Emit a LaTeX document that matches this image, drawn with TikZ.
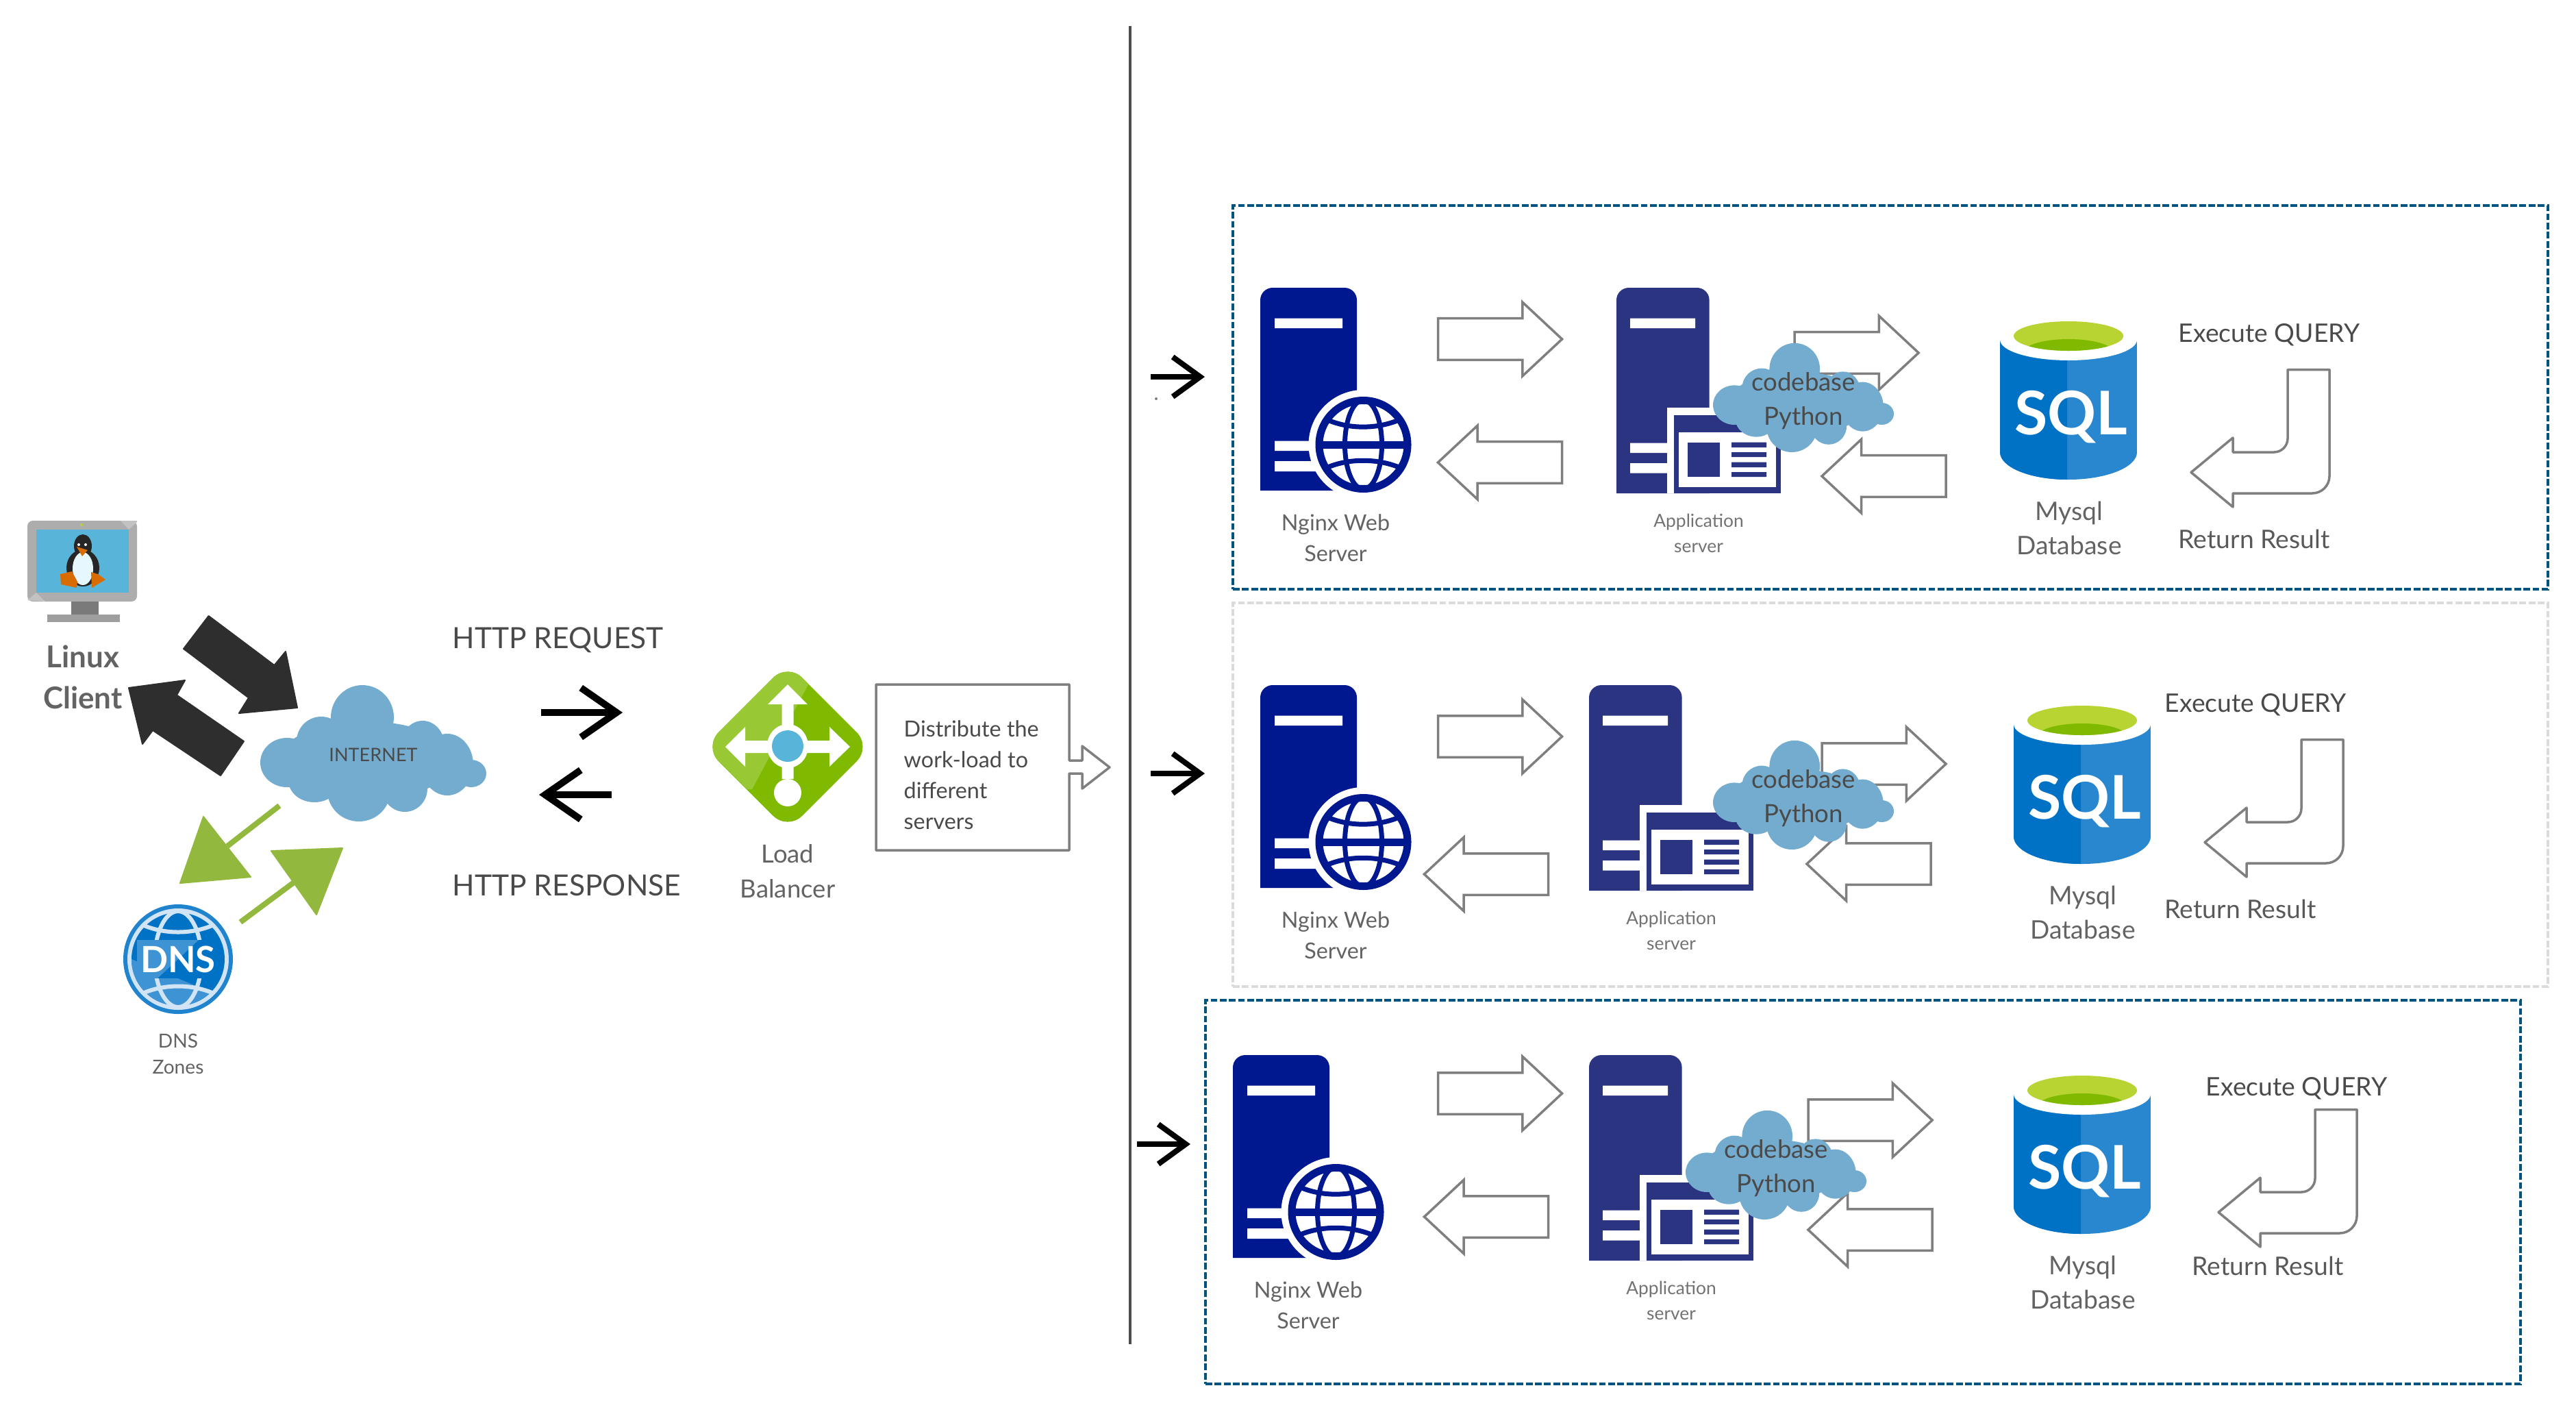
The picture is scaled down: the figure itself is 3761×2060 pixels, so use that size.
\documentclass[tikz,border=0pt]{standalone}
\usepackage{fontspec}
\setmainfont{Lato}
\usetikzlibrary{arrows.meta,shapes.arrows}

\definecolor{labelgrey}{HTML}{636363}
\definecolor{textgrey}{HTML}{4A4A4A}
\definecolor{linegrey}{HTML}{7F7F7F}
\definecolor{cloudblue}{HTML}{74ACCF}
\definecolor{webnavy}{HTML}{00188F}
\definecolor{appnavy}{HTML}{2B3481}
\definecolor{sqlblue}{HTML}{0072C6}
\definecolor{sqllight}{HTML}{2987CF}
\definecolor{screenblue}{HTML}{59B4D9}
\definecolor{limegreen}{HTML}{B8D432}
\definecolor{azuregreen}{HTML}{7FBA00}
\definecolor{arrowgreen}{HTML}{92B83E}
\definecolor{boxblue}{HTML}{00547F}
\definecolor{ringblue}{HTML}{D0E4F5}

\newcommand{\labelsize}[2]{\fontsize{#1}{#2}\selectfont}

\tikzset{
    x=0.01cm, y=-0.01cm,
    blockarrow/.style={single arrow, draw=linegrey, fill=white, line width=0.035cm,
        minimum height=1.81cm, minimum width=1.04cm, single arrow head extend=0.235cm,
        single arrow tip angle=86, inner xsep=0pt, inner ysep=0.285cm, outer sep=0pt, anchor=tail},
    blockleft/.style={blockarrow, rotate=180},
    rowbox/.style={draw=boxblue, line width=0.04cm, dash pattern=on 2.8pt off 1pt,
        minimum width=19.19cm, minimum height=5.6cm, inner sep=0pt},
    blackbarb/.style={-{Straight Barb[length=0.52cm,width=0.72cm]}, line width=0.1cm, black},
    rowbarb/.style={-{Straight Barb[length=0.40cm,width=0.58cm]}, line width=0.08cm, black},
    blackarrow/.style={fill=black!82, draw=black!82, line width=0.02cm, line join=round},
    greenarrow/.style={fill=arrowgreen, draw=arrowgreen, line width=0.02cm, line join=round},
    pics/netcloud/.style={code={
        \fill[cloudblue]
            (-16,-52) ellipse [x radius=46, y radius=47]
            (-126,14) ellipse [x radius=39, y radius=36]
            (-76,-17) ellipse [x radius=36, y radius=36]
            (72,-11) ellipse [x radius=32, y radius=36]
            (108,17) ellipse [x radius=38, y radius=45]
            (143,30) ellipse [x radius=22, y radius=20]
            (-21,55) ellipse [x radius=46, y radius=45]
            (-86,40) ellipse [x radius=38, y radius=32]
            (46,52) ellipse [x radius=33, y radius=34]
            (-10,11) ellipse [x radius=128, y radius=57];
    }},
    pics/webicon/.style={code={
        \fill[webnavy] (0,296) [rounded corners=0.18cm] -- (0,0) -- (141,0) [sharp corners] -- (141,296) -- cycle;
        \fill[white] (21,44.5) rectangle (120,59) (21,223.6) rectangle (120,238) (21,253) rectangle (120,268);
        \fill[white] (150.5,229) circle (80);
        \draw[webnavy, line width=0.11cm] (150.5,229) circle (64.5);
        \draw[webnavy, line width=0.07cm] (150.5,229) ellipse [x radius=27, y radius=65];
        \draw[webnavy, line width=0.11cm] (86,229) -- (215,229);
        \draw[webnavy, line width=0.07cm] (98.5,193) .. controls (130,206.5) and (170,206.5) .. (202.5,193);
        \draw[webnavy, line width=0.07cm] (98.5,262) .. controls (130,249) and (170,249) .. (202.5,262);
        \node[text=labelgrey, font=\labelsize{9.2}{12.8}, align=center] (-label) at (110,365) {Nginx Web\\Server};
    }},
    pics/appicon/.style={code={
        \fill[appnavy] (0,300) [rounded corners=0.18cm] -- (0,0) -- (135.6,0) [sharp corners] -- (135.6,300) -- cycle;
        \fill[white] (20,44.5) rectangle (115,59) (20,226.6) rectangle (74,241) (20,256) rectangle (74,270.6);
        \fill[white] (74,175) rectangle (250,300);
        \fill[appnavy] (84,186) rectangle (240,300);
        \fill[white] (91,210.5) rectangle (233,291);
        \fill[appnavy] (104,225.5) rectangle (151,276);
        \fill[appnavy] (168,225.5) rectangle (219,233) (168,240) rectangle (219,247)
            (168,254.5) rectangle (219,262) (168,269) rectangle (219,276);
        \node[text=labelgrey!90, font=\labelsize{7.5}{10.5}, align=center] (-label) at (120,358) {Application\\server};
    }},
    pics/dbicon/.style={code={
        \fill[sqllight] (0,27) rectangle (200,191);
        \fill[sqllight] (100,191) ellipse [x radius=100, y radius=40];
        \fill[sqlblue] (0,27) -- (0,191) .. controls (0,213) and (44,231) .. (98,231) -- (98,27) -- cycle;
        \fill[white] (100,27) ellipse [x radius=100, y radius=30];
        \fill[limegreen] (100,21.5) ellipse [x radius=80, y radius=21.5];
        \begin{scope}
            \clip (100,21.5) ellipse [x radius=80, y radius=21.5];
            \fill[azuregreen] (100,44) ellipse [x radius=64, y radius=18];
        \end{scope}
        \node[text=white, font=\bfseries\labelsize{25}{28}] (-sql) at (104,140) {SQL};
        \node[text=labelgrey, font=\labelsize{10.6}{14.2}, align=center] (-label) at (101,302) {Mysql\\Database};
    }},
    pics/bentarrow/.style={code={
        \draw[draw=linegrey, fill=white, line width=0.035cm, line join=round]
            (141,0) -- (202,0) [rounded corners=0.25cm] -- (202,180.5) [sharp corners] -- (61,180.5)
            -- (61,200.5) -- (0,150) -- (61,99.5) -- (61,120.5) [rounded corners=0.2cm] -- (141,120.5)
            [sharp corners] -- cycle;
    }},
    cloudtext/.style={text=textgrey, font=\labelsize{10.4}{14.2}, align=center},
    querytext/.style={text=textgrey, font=\labelsize{10.6}{13}, anchor=west, inner sep=0pt},
    resulttext/.style={text=labelgrey!90!black, font=\labelsize{10.6}{13}, anchor=west, inner sep=0pt},
}

\begin{document}
\begin{tikzpicture}
    \useasboundingbox (0,0) rectangle (3761,2060);

    % linux client
    \fill[black!32, rounded corners=0.08cm] (40,760) rectangle (200,878);
    \fill[black!24] (176,760) -- (200,760) -- (200,762) -- (188,773) -- cycle (53,865) -- (40,876) -- (66,878) -- (53,865);
    \fill[black!52] (104,878) rectangle (144,897);
    \fill[black!38] (69,897) rectangle (175,908);
    \fill[screenblue] (53,773) rectangle (188,865);
    \fill[limegreen] (119,766) circle (2);
    \fill[black!85] (121,829) ellipse [x radius=24, y radius=27];
    \fill[black!85] (121,797) ellipse [x radius=13, y radius=17];
    \fill[white!90!cyan] (121,830) ellipse [x radius=15, y radius=24];
    \fill[orange!85!black] (88,838) -- (105,834) -- (113,849) -- (112,858) -- (89,853) -- cycle
        (133,835) -- (143,838) -- (154,846) -- (134,858) -- cycle
        (112,798) -- (128,803) -- (120,812) -- cycle;
    \fill[white] (115,795) circle (2) (125,795) circle (2);
    \node[text=labelgrey, font=\bfseries\labelsize{12.5}{17}, align=center] (client) at (121,988) {Linux\\Client};

    \draw[blackarrow] (304.6,899) -- (268,947) -- (363,1018.5) -- (349,1041) -- (434,1033) -- (417,951) -- (400.5,971) -- cycle;
    \draw[blackarrow] (188,1004) -- (270,993) -- (258,1014.5) -- (356,1082) -- (322,1132) -- (223,1066) -- (208,1086) -- cycle;

    % internet and dns
    \pic (net) at (545,1099) {netcloud};
    \node[text=textgrey, font=\labelsize{7.7}{10}] (nettext) at (545,1102) {INTERNET};

    \coordinate (gone) at (408,1176);
    \coordinate (gonehead) at (332,1235);
    \coordinate (gtwo) at (351,1346);
    \coordinate (gtwohead) at (429,1288);
    \draw[arrowgreen, line width=0.08cm] (gone) -- (gonehead);
    \draw[arrowgreen, line width=0.08cm] (gtwo) -- (gtwohead);
    \draw[greenarrow] (297,1192) -- (263,1289) -- (366,1280) -- cycle;
    \draw[greenarrow] (396,1242) -- (500,1238) -- (462,1335) -- cycle;

    \fill[sqlblue!88!white] (260,1400) circle (80);
    \fill[ringblue] (260,1400) circle (74);
    \fill[sqlblue] (260,1400) circle (68);
    \fill[sqllight!90!white] (192,1400) arc [start angle=180, end angle=45, radius=68] -- cycle;
    \draw[ringblue, line width=0.06cm] (260,1400) ellipse [x radius=34, y radius=70];
    \draw[ringblue, line width=0.06cm] (208,1350) .. controls (240,1364) and (280,1364) .. (312,1350);
    \draw[ringblue, line width=0.06cm] (208,1450) .. controls (240,1436) and (280,1436) .. (312,1450);
    \fill[sqlblue] (200,1372) rectangle (320,1428);
    \fill[sqllight!90!white] (200,1372) -- (290,1372) -- (230,1428) -- (200,1428) -- cycle;
    \node[text=white, font=\bfseries\labelsize{15}{17}] (dnsicon) at (260,1400) {DNS};
    \node[text=labelgrey, font=\labelsize{8}{10.8}, align=center] (dnstext) at (260,1538) {DNS\\Zones};

    % http
    \node[text=textgrey, font=\labelsize{12.1}{14}, anchor=west, inner sep=0pt] (req) at (660,934) {HTTP REQUEST};
    \node[text=textgrey, font=\labelsize{12.1}{14}, anchor=west, inner sep=0pt] (resp) at (660,1292) {HTTP RESPONSE};
    \coordinate (reqa) at (790,1040);
    \coordinate (reqb) at (909,1040);
    \coordinate (respa) at (893,1160);
    \coordinate (respb) at (787,1160);
    \draw[blackbarb] (reqa) -- (reqb);
    \draw[blackbarb] (respa) -- (respb);

    % load balancer
    \fill[azuregreen, rounded corners=0.3cm] (1150,968) -- (1272,1090) -- (1150,1212) -- (1028,1090) -- cycle;
    \begin{scope}
        \clip[rounded corners=0.3cm] (1150,968) -- (1272,1090) -- (1150,1212) -- (1028,1090) -- cycle;
        \fill[azuregreen!80!white] (1000,940) -- (1212,940) -- (1098,1152) -- (1000,1152) -- cycle;
    \end{scope}
    \fill[white] (1150,999) -- (1179,1028) -- (1158.5,1028) -- (1158.5,1137) -- (1141.5,1137) -- (1141.5,1028) -- (1121,1028) -- cycle;
    \fill[white] (1059,1090) -- (1088,1061) -- (1088,1081) -- (1211,1081) -- (1211,1061) -- (1241,1090)
        -- (1211,1119) -- (1211,1099) -- (1088,1099) -- (1088,1119) -- cycle;
    \fill[white] (1150,1089) ellipse [x radius=30, y radius=32];
    \fill[white] (1150,1157) circle (20);
    \fill[screenblue] (1150,1089) ellipse [x radius=23, y radius=23];
    \node[text=labelgrey, font=\labelsize{10.4}{14.5}, align=center] (lbtext) at (1150,1272) {Load\\Balancer};

    \draw[linegrey, fill=white, line width=0.035cm, line join=round]
        (1279,999) -- (1561,999) -- (1561,1110) -- (1580,1110) -- (1580,1089) -- (1620,1120)
        -- (1580,1151) -- (1580,1129) -- (1561,1129) -- (1561,1241) -- (1279,1241) -- cycle;
    \node[text=textgrey, font=\labelsize{9.2}{12.8}, align=left, anchor=west, inner sep=0pt] (disttext) at (1319,1131)
        {Distribute the\\work-load to\\different\\servers};

    % split line and the three groups
    \coordinate (topend) at (1650,38);
    \coordinate (botend) at (1650,1962);
    \draw[black!70, line width=0.04cm] (topend) -- (botend);

    \node[rowbox] (box1) at (2760,580) {};
    \node[rowbox, draw=black!14] (box2) at (2760,1160) {};
    \node[rowbox] (box3) at (2720,1740) {};

    \coordinate (inaa) at (1680,550);
    \coordinate (inab) at (1759,550);
    \coordinate (inba) at (1680,1129);
    \coordinate (inbb) at (1759,1129);
    \coordinate (inca) at (1660,1670);
    \coordinate (incb) at (1738,1670);
    \draw[rowbarb] (inaa) -- (inab);
    \draw[rowbarb] (inba) -- (inbb);
    \draw[rowbarb] (inca) -- (incb);
    \fill[linegrey] (1688,582) circle (2);

    % first row
    \pic (weba) at (1840,420) {webicon};
    \node[blockarrow] (wappa) at (2099.5,495) {};
    \node[blockleft] (appwa) at (2280.5,675) {};
    \node[blockarrow] (adba) at (2620,515) {};
    \node[blockleft] (dbaa) at (2841,695) {};
    \pic (appa) at (2360,420) {appicon};
    \pic[scale=0.8] (cloa) at (2633,580) {netcloud};
    \node[cloudtext] (coda) at (2633,585) {codebase\\Python};
    \pic (dba) at (2920,469) {dbicon};
    \node[querytext] (qa) at (3180,489) {Execute QUERY};
    \pic (benta) at (3199,539.5) {bentarrow};
    \node[resulttext] (ra) at (3180,787) {Return Result};

    % second row
    \pic (webb) at (1840,1000) {webicon};
    \node[blockarrow] (wappb) at (2099.5,1075) {};
    \node[blockleft] (appwb) at (2260.5,1276) {};
    \node[blockarrow] (adbb) at (2660,1115) {};
    \node[blockleft] (dbab) at (2819,1261) {};
    \pic (appb) at (2320,1000) {appicon};
    \pic[scale=0.8] (clob) at (2633,1160) {netcloud};
    \node[cloudtext] (codb) at (2633,1165) {codebase\\Python};
    \pic (dbb) at (2940,1030) {dbicon};
    \node[querytext] (qb) at (3160,1029) {Execute QUERY};
    \pic (bentb) at (3219,1079.5) {bentarrow};
    \node[resulttext] (rb) at (3160,1327) {Return Result};

    % third row
    \pic (webc) at (1800,1540) {webicon};
    \node[blockarrow] (wappc) at (2099.5,1596) {};
    \node[blockleft] (appwc) at (2260.5,1776) {};
    \node[blockarrow] (adbc) at (2640,1635) {};
    \node[blockleft] (dbac) at (2821,1795) {};
    \pic (appc) at (2320,1540) {appicon};
    \pic[scale=0.8] (cloc) at (2593,1700) {netcloud};
    \node[cloudtext] (codc) at (2593,1705) {codebase\\Python};
    \pic (dbc) at (2940,1570) {dbicon};
    \node[querytext] (qc) at (3220,1589) {Execute QUERY};
    \pic (bentc) at (3239,1619.5) {bentarrow};
    \node[resulttext] (rc) at (3200,1848) {Return Result};
\end{tikzpicture}
\end{document}
